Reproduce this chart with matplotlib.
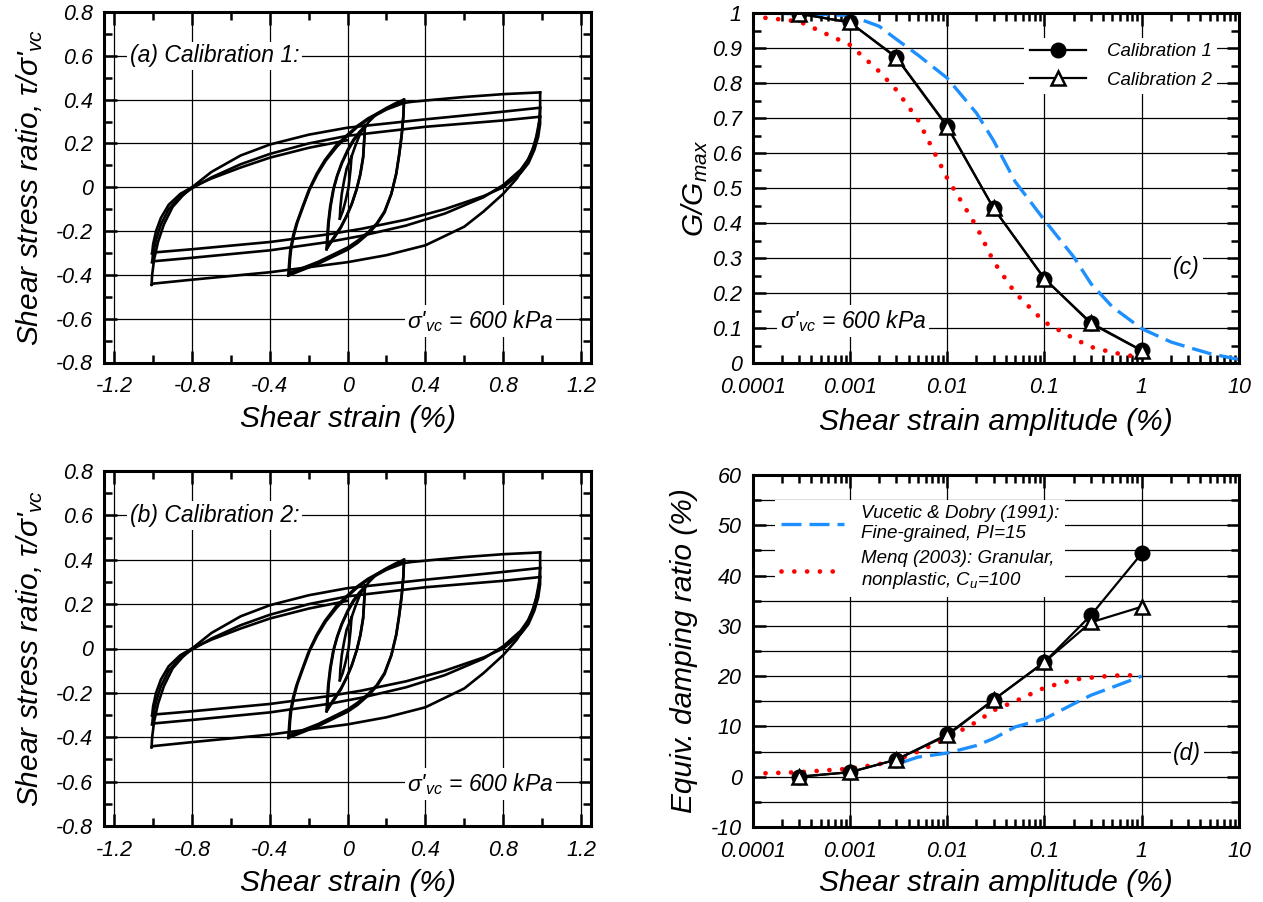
import matplotlib
matplotlib.use("Agg")
import matplotlib.pyplot as plt
from matplotlib.ticker import MultipleLocator, LogLocator, NullFormatter, FuncFormatter

plt.rcParams['font.family'] = ['Liberation Sans', 'DejaVu Sans']
plt.rcParams['font.style'] = 'italic'
plt.rcParams['mathtext.fontset'] = 'custom'
plt.rcParams['mathtext.it'] = 'Liberation Sans:italic'
plt.rcParams['mathtext.rm'] = 'Liberation Sans:italic'
plt.rcParams['axes.unicode_minus'] = False

# ---- hysteresis branches (shear strain %, stress ratio) (a)/(b)
loop003_dn = [(0.02, 0.139), (0.015, 0.08), (0.005, 0.0), (-0.01, -0.06), (-0.025, -0.11), (-0.04, -0.143)]
loop003_up = [(-0.04, -0.143), (-0.037, -0.09), (-0.03, -0.03), (-0.018, 0.03), (-0.005, 0.085), (0.02, 0.139)]
load01 = [(0.02, 0.139), (0.04, 0.19), (0.065, 0.245), (0.089, 0.284)]
loop01_dn1 = [(0.089, 0.284), (0.087, 0.24), (0.08, 0.14), (0.065, 0.06), (0.046, -0.01), (0.02, -0.08),
              (-0.006, -0.134), (-0.035, -0.185), (-0.065, -0.226), (-0.09, -0.258), (-0.108, -0.283)]
loop01_up1 = [(-0.108, -0.283), (-0.105, -0.23), (-0.1, -0.165), (-0.09, -0.09), (-0.074, -0.01), (-0.055, 0.05),
              (-0.031, 0.11), (0.0, 0.17), (0.029, 0.216), (0.06, 0.252), (0.089, 0.278)]
loop01_dn2 = [(0.089, 0.278), (0.087, 0.235), (0.08, 0.135), (0.066, 0.06), (0.048, -0.005), (0.022, -0.075),
              (-0.004, -0.128), (-0.033, -0.178), (-0.063, -0.218), (-0.088, -0.25), (-0.105, -0.275)]
loop01_up2 = [(-0.105, -0.275), (-0.102, -0.225), (-0.097, -0.16), (-0.087, -0.085), (-0.071, -0.005), (-0.052, 0.055),
              (-0.028, 0.112), (0.003, 0.17), (0.032, 0.214), (0.062, 0.248), (0.089, 0.274)]
load03 = [(0.089, 0.274), (0.11, 0.3), (0.15, 0.335), (0.2, 0.362), (0.25, 0.385), (0.29, 0.4)]
loop03_dn1 = [(0.29, 0.4), (0.287, 0.33), (0.278, 0.24), (0.265, 0.15), (0.25, 0.063), (0.225, -0.03),
              (0.19, -0.115), (0.15, -0.17), (0.106, -0.212), (0.05, -0.255), (0.0, -0.285), (-0.15, -0.349),
              (-0.305, -0.403)]
loop03_up1 = [(-0.305, -0.403), (-0.3, -0.34), (-0.295, -0.288), (-0.28, -0.22), (-0.263, -0.166), (-0.23, -0.085),
              (-0.2, -0.014), (-0.16, 0.06), (-0.117, 0.124), (-0.06, 0.19), (0.0, 0.24), (0.05, 0.28),
              (0.106, 0.315), (0.2, 0.36), (0.29, 0.392)]
loop03_dn2 = [(0.29, 0.392), (0.287, 0.325), (0.278, 0.235), (0.265, 0.145), (0.25, 0.06), (0.225, -0.03),
              (0.19, -0.11), (0.15, -0.165), (0.106, -0.205), (0.05, -0.245), (0.0, -0.275), (-0.15, -0.34),
              (-0.3, -0.392)]
loop03_up2 = [(-0.3, -0.392), (-0.296, -0.33), (-0.29, -0.28), (-0.275, -0.215), (-0.258, -0.16), (-0.225, -0.08),
              (-0.195, -0.01), (-0.155, 0.06), (-0.112, 0.122), (-0.055, 0.185), (0.0, 0.235), (0.05, 0.275),
              (0.106, 0.31), (0.2, 0.355), (0.29, 0.385)]
load10 = [(0.29, 0.385), (0.33, 0.39), (0.45, 0.4), (0.6, 0.412), (0.8, 0.425), (0.99, 0.433)]
loop10_dn1 = [(0.99, 0.433), (0.99, 0.37), (0.985, 0.3), (0.97, 0.23), (0.95, 0.17), (0.92, 0.11), (0.87, 0.04),
              (0.8, -0.03), (0.7, -0.11), (0.6, -0.18), (0.4, -0.265), (0.2, -0.31), (0.0, -0.342),
              (-0.4, -0.388), (-0.8, -0.422), (-1.0, -0.44), (-1.008, -0.445)]
loop10_up1 = [(-1.008, -0.445), (-1.005, -0.4), (-0.995, -0.33), (-0.975, -0.25), (-0.945, -0.17), (-0.9, -0.09),
              (-0.85, -0.04), (-0.8, 0.0), (-0.7, 0.07), (-0.55, 0.145), (-0.4, 0.195), (-0.2, 0.24),
              (0.0, 0.272), (0.4, 0.31), (0.8, 0.345), (0.99, 0.363)]
loop10_dn2 = [(0.99, 0.363), (0.99, 0.33), (0.98, 0.26), (0.96, 0.19), (0.93, 0.13), (0.89, 0.08), (0.8, 0.01),
              (0.7, -0.045), (0.5, -0.12), (0.3, -0.175), (0.07, -0.222), (-0.1, -0.25), (-0.4, -0.288),
              (-0.8, -0.322), (-1.0, -0.338), (-1.005, -0.342)]
loop10_up2 = [(-1.005, -0.342), (-1.0, -0.3), (-0.985, -0.24), (-0.96, -0.17), (-0.92, -0.1), (-0.86, -0.04),
              (-0.8, -0.005), (-0.7, 0.045), (-0.55, 0.105), (-0.4, 0.152), (-0.2, 0.2), (0.0, 0.235),
              (0.4, 0.276), (0.8, 0.305), (0.99, 0.322)]
loop10_dn3 = [(0.99, 0.322), (0.99, 0.29), (0.98, 0.23), (0.96, 0.17), (0.93, 0.11), (0.89, 0.065), (0.8, 0.0),
              (0.7, -0.04), (0.5, -0.1), (0.3, -0.148), (0.07, -0.19), (-0.1, -0.215), (-0.4, -0.25),
              (-0.8, -0.283), (-1.0, -0.298), (-1.005, -0.302)]
loop10_up3 = [(-1.005, -0.302), (-1.0, -0.26), (-0.985, -0.2), (-0.96, -0.14), (-0.92, -0.08), (-0.86, -0.03),
              (-0.8, 0.0), (-0.7, 0.04), (-0.55, 0.09), (-0.4, 0.135), (-0.2, 0.18), (0.0, 0.215)]

branches = [loop003_dn, loop003_up, load01, loop01_dn1, loop01_up1, loop01_dn2, loop01_up2, load03,
            loop03_dn1, loop03_up1, loop03_dn2, loop03_up2, load10, loop10_dn1, loop10_up1,
            loop10_dn2, loop10_up2, loop10_dn3, loop10_up3]

# ---- modulus reduction and damping
strain_pts = [0.0003, 0.001, 0.003, 0.01, 0.03, 0.1, 0.3, 1]
ggmax_cal1 = [0.998, 0.973, 0.874, 0.677, 0.442, 0.241, 0.115, 0.036]
ggmax_cal2 = [0.998, 0.973, 0.872, 0.675, 0.442, 0.241, 0.113, 0.035]
damp_cal1 = [0.0, 0.9, 3.4, 8.4, 15.3, 22.8, 32.1, 44.4]
damp_cal2 = [0.0, 0.9, 3.4, 8.2, 15.3, 22.8, 30.7, 33.8]

vd_strain = [0.0001, 0.0003, 0.001, 0.002, 0.003, 0.005, 0.01, 0.02, 0.03, 0.05, 0.1, 0.2, 0.3, 0.5, 1, 2, 3, 5, 10]
vd_ggmax = [1.0, 0.998, 0.993, 0.962, 0.925, 0.88, 0.814, 0.714, 0.635, 0.518, 0.408, 0.303, 0.227, 0.16,
            0.098, 0.06, 0.045, 0.027, 0.01]
vd_d_strain = [0.0035, 0.005, 0.01, 0.02, 0.03, 0.05, 0.1, 0.2, 0.3, 0.5, 1]
vd_damp = [2.9, 3.9, 4.7, 6.2, 7.6, 9.9, 11.5, 14.5, 16.2, 17.8, 20.0]

menq_strain = [0.0001, 0.0003, 0.001, 0.002, 0.003, 0.005, 0.01, 0.02, 0.03, 0.05, 0.1, 0.2, 0.3, 0.5, 1]
menq_ggmax = [0.99, 0.976, 0.909, 0.833, 0.78, 0.695, 0.528, 0.39, 0.29, 0.2, 0.117, 0.07, 0.046, 0.03, 0.015]
menq_damp = [0.6, 0.9, 1.6, 2.5, 3.3, 5.0, 7.7, 10.9, 13.2, 15.0, 17.7, 19.3, 19.7, 20.1, 20.2]

W, H = 1263, 902
fig = plt.figure(figsize=(W / 100, H / 100), dpi=100)


def px_axes(l, t, r, b):
    return fig.add_axes([l / W, 1 - b / H, (r - l) / W, (b - t) / H])


def fmt(v, pos):
    s = '%g' % round(v, 6)
    return '0' if s == '-0' else s


def style(ax):
    for s in ax.spines.values():
        s.set_linewidth(2.2)
    ax.tick_params(which='both', direction='in', top=True, right=True, labelsize=15.5)
    ax.tick_params(axis='x', which='both', pad=10)
    ax.tick_params(axis='y', which='both', pad=8)
    ax.tick_params(which='major', length=9, width=1.8)
    ax.tick_params(which='minor', length=5.5, width=1.8)
    ax.xaxis.set_major_formatter(FuncFormatter(fmt))
    ax.yaxis.set_major_formatter(FuncFormatter(fmt))
    ax.set_axisbelow(True)


box = dict(facecolor='white', edgecolor='none', pad=2)
sig_txt = "σ'$_{vc}$ = 600 kPa"
blue = '#1e8fff'
red = '#ff0000'
dash_kw = dict(color=blue, lw=2.4, dashes=(6, 2.4))
dot_kw = dict(color=red, lw=3.4, linestyle=(0, (0.01, 2.7)), dash_capstyle='round')

for (t, b), tag in [((12, 362.5), '(a) Calibration 1:'), ((471, 826), '(b) Calibration 2:')]:
    ax = px_axes(104.5, t, 590.7, b)
    for br in branches:
        ax.plot([p[0] for p in br], [p[1] for p in br], color='black', lw=1.9, solid_joinstyle='round')
    ax.set_xlim(-1.25, 1.25)
    ax.set_ylim(-0.8, 0.8)
    ax.xaxis.set_major_locator(MultipleLocator(0.4))
    ax.xaxis.set_minor_locator(MultipleLocator(0.2))
    ax.yaxis.set_major_locator(MultipleLocator(0.2))
    ax.yaxis.set_minor_locator(MultipleLocator(0.1))
    style(ax)
    ax.grid(True, which='major', color='black', lw=0.9)
    ax.text(-1.12, 0.6, tag, fontsize=16.5, va='center', ha='left', bbox=box)
    ax.text(1.06, -0.61, sig_txt, fontsize=16.5, va='center', ha='right', bbox=box)
    ax.set_xlabel('Shear strain (%)', fontsize=21.5)
    ax.set_ylabel("Shear stress ratio, τ/σ'$_{vc}$", fontsize=21.5)
    ax.xaxis.set_label_coords(0.5, -0.12)
    ax.yaxis.set_label_coords(-0.122, 0.5)


def log_axes(ax):
    ax.set_xscale('log')
    ax.set_xlim(1e-4, 10)
    ax.xaxis.set_major_locator(LogLocator(base=10, numticks=20))
    ax.xaxis.set_minor_locator(LogLocator(base=10, subs=range(2, 10), numticks=20))
    ax.xaxis.set_minor_formatter(NullFormatter())


def white_legend(ax, **kw):
    leg = ax.legend(frameon=True, fancybox=False, borderaxespad=0, borderpad=0.3, fontsize=13.5, **kw)
    leg.get_frame().set_edgecolor('none')
    leg.get_frame().set_facecolor('white')
    leg.get_frame().set_alpha(1)


# (c)
ax = px_axes(752.7, 13, 1239, 363)
log_axes(ax)
ax.plot(vd_strain, vd_ggmax, **dash_kw)
ax.plot(menq_strain, menq_ggmax, **dot_kw)
ax.plot(strain_pts, ggmax_cal1, color='black', lw=1.6, marker='o', ms=10.5, mfc='black', mec='black',
        label='Calibration 1')
ax.plot(strain_pts, ggmax_cal2, color='black', lw=1.6, marker='^', ms=10.5, mfc='white', mec='black', mew=1.8,
        label='Calibration 2')
ax.set_ylim(0, 1)
ax.yaxis.set_major_locator(MultipleLocator(0.1))
ax.yaxis.set_minor_locator(MultipleLocator(0.05))
style(ax)
ax.grid(True, which='major', color='black', lw=0.9)
white_legend(ax, loc='upper right', bbox_to_anchor=(0.955, 0.93), handlelength=3.0, handletextpad=1.1,
             labelspacing=0.6)
ax.text(2.11, 0.274, '(c)', fontsize=16.5, va='center', ha='left', bbox=box)
ax.text(1.91e-4, 0.12, sig_txt, fontsize=16.5, va='center', ha='left', bbox=box)
ax.set_xlabel('Shear strain amplitude (%)', fontsize=21.5)
ax.set_ylabel('G/G$_{max}$', fontsize=21.5)
ax.xaxis.set_label_coords(0.5, -0.13)
ax.yaxis.set_label_coords(-0.088, 0.5)

# (d)
ax = px_axes(752.7, 475, 1239, 827)
log_axes(ax)
ax.plot(vd_d_strain, vd_damp, label='Vucetic & Dobry (1991):\nFine-grained, PI=15', **dash_kw)
ax.plot(menq_strain, menq_damp, label='Menq (2003): Granular,\nnonplastic, C$_u$=100', **dot_kw)
ax.plot(strain_pts, damp_cal1, color='black', lw=1.6, marker='o', ms=10.5, mfc='black', mec='black')
ax.plot(strain_pts, damp_cal2, color='black', lw=1.6, marker='^', ms=10.5, mfc='white', mec='black', mew=1.8)
ax.set_ylim(-10, 60)
ax.yaxis.set_major_locator(MultipleLocator(10))
ax.yaxis.set_minor_locator(MultipleLocator(5))
style(ax)
ax.grid(True, which='major', color='black', lw=0.9)
ax.grid(True, which='minor', axis='y', color='black', lw=0.9)
white_legend(ax, loc='upper left', bbox_to_anchor=(0.046, 0.93), handlelength=3.4, handletextpad=0.9,
             labelspacing=0.45)
ax.text(2.11, 4.7, '(d)', fontsize=16.5, va='center', ha='left', bbox=box)
ax.set_xlabel('Shear strain amplitude (%)', fontsize=21.5)
ax.set_ylabel('Equiv. damping ratio (%)', fontsize=21.5)
ax.xaxis.set_label_coords(0.5, -0.12)
ax.yaxis.set_label_coords(-0.112, 0.5)

fig.savefig('out.png', dpi=100)
